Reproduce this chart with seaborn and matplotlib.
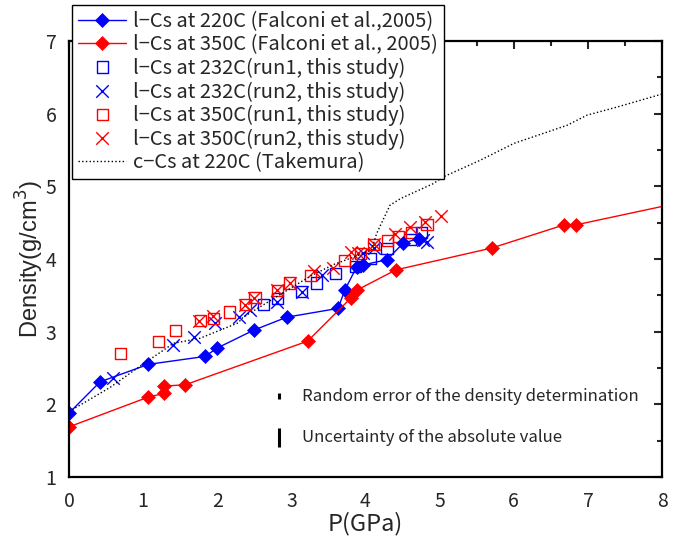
import numpy as np
import matplotlib
matplotlib.use("Agg")
import matplotlib.pyplot as plt
import seaborn as sns
from matplotlib.ticker import MultipleLocator

# Falconi et al. 2005 (l-Cs)
falc220_p = [0.0, 0.42, 1.07, 1.84, 1.99, 2.49, 2.94, 3.63, 3.72, 3.88, 3.97, 4.29, 4.51, 4.72]
falc220_d = [1.88, 2.31, 2.55, 2.66, 2.77, 3.02, 3.20, 3.32, 3.57, 3.89, 3.92, 3.99, 4.22, 4.28]
falc350_p = [0.0, 1.07, 1.28, 1.28, 1.57, 3.22, 3.80, 3.88, 4.41, 5.70, 6.68, 6.84, 8.40]
falc350_d = [1.69, 2.10, 2.15, 2.25, 2.27, 2.87, 3.46, 3.57, 3.85, 4.15, 4.47, 4.47, 4.81]

# this study
r1_232_p = [2.62, 2.81, 3.14, 3.34, 3.60, 3.87, 4.06, 4.29, 4.60, 4.76]
r1_232_d = [3.37, 3.46, 3.55, 3.67, 3.80, 3.90, 4.01, 4.15, 4.27, 4.37]
r2_232_p = [0.60, 1.40, 1.68, 1.97, 2.29, 2.44, 2.80, 3.14, 3.41, 3.97, 4.12, 4.78, 4.83]
r2_232_d = [2.36, 2.81, 2.92, 3.12, 3.20, 3.30, 3.41, 3.55, 3.78, 4.08, 4.15, 4.26, 4.24]
r1_350_p = [0.69, 1.21, 1.44, 1.78, 1.95, 2.17, 2.38, 2.51, 2.81, 2.97, 3.26, 3.72, 3.93, 4.11, 4.30, 4.44, 4.62, 4.83]
r1_350_d = [2.70, 2.87, 3.02, 3.15, 3.18, 3.27, 3.37, 3.47, 3.57, 3.67, 3.77, 3.98, 4.08, 4.20, 4.25, 4.31, 4.37, 4.48]
r2_350_p = [1.76, 1.94, 2.38, 2.50, 2.80, 2.98, 3.30, 3.56, 3.80, 3.90, 4.12, 4.40, 4.60, 4.80, 5.02]
r2_350_d = [3.15, 3.21, 3.37, 3.47, 3.57, 3.67, 3.83, 3.88, 4.09, 4.08, 4.21, 4.34, 4.44, 4.51, 4.59]

# c-Cs at 220C (Takemura)
tak_p = [0.0, 0.55, 0.98, 1.41, 1.77, 2.28, 2.35, 2.80, 3.25, 3.56, 3.90, 4.08, 4.15, 4.33, 4.47,
         4.92, 5.05, 5.55, 6.00, 6.72, 6.99, 7.39, 8.00]
tak_d = [1.90, 2.23, 2.54, 2.84, 2.91, 3.12, 3.20, 3.48, 3.76, 3.92, 4.05, 4.12, 4.35, 4.74, 4.83,
         5.04, 5.13, 5.36, 5.59, 5.84, 5.98, 6.09, 6.27]

# error symbols
err_p = [2.83, 2.83]
err_d = [2.11, 1.54]
err_half = [0.04, 0.13]
err_text = ["Random error of the density determination", "Uncertainty of the absolute value"]

sns.set_style("white")
plt.rcParams['font.family'] = ['Noto Sans CJK JP', 'DejaVu Sans']

fig = plt.figure(figsize=(6.81, 5.41), dpi=100)
ax = fig.add_axes([69/681, 1-477/541, 593/681, 436/541])

sns.lineplot(x=falc220_p, y=falc220_d, estimator=None, sort=False, color='blue', lw=1,
             marker='D', markersize=7.5, mec='blue', mew=0.5, label='l\u2212Cs at 220C (Falconi et al.,2005)', ax=ax)
sns.lineplot(x=falc350_p, y=falc350_d, estimator=None, sort=False, color='red', lw=1,
             marker='D', markersize=7.5, mec='red', mew=0.5, label='l\u2212Cs at 350C (Falconi et al., 2005)', ax=ax)
sns.scatterplot(x=r1_232_p, y=r1_232_d, marker='s', s=64, facecolor='none', edgecolor='blue',
                linewidth=1, label='l\u2212Cs at 232C(run1, this study)', ax=ax)
sns.scatterplot(x=r2_232_p, y=r2_232_d, marker='x', s=81, color='blue',
                linewidth=1, label='l\u2212Cs at 232C(run2, this study)', ax=ax)
sns.scatterplot(x=r1_350_p, y=r1_350_d, marker='s', s=64, facecolor='none', edgecolor='red',
                linewidth=1, label='l\u2212Cs at 350C(run1, this study)', ax=ax)
sns.scatterplot(x=r2_350_p, y=r2_350_d, marker='x', s=81, color='red',
                linewidth=1, label='l\u2212Cs at 350C(run2, this study)', ax=ax)
sns.lineplot(x=tak_p, y=tak_d, estimator=None, sort=False, color='black', lw=1,
             linestyle=':', label='c\u2212Cs at 220C (Takemura)', ax=ax)

ax.errorbar(err_p, err_d, yerr=err_half, fmt='none', ecolor='black', elinewidth=2.2, capsize=0)
for p, d, t in zip(err_p, err_d, err_text):
    ax.text(p + 0.31, d, t, fontsize=12.1, va='center', ha='left')

ax.set_xlim(0, 8)
ax.set_ylim(1, 7)
ax.xaxis.set_major_locator(MultipleLocator(1))
ax.xaxis.set_minor_locator(MultipleLocator(0.5))
ax.yaxis.set_major_locator(MultipleLocator(1))
ax.yaxis.set_minor_locator(MultipleLocator(0.5))
ax.tick_params(which='both', direction='in', top=True, right=True, width=1.5, labelsize=14)
ax.tick_params(which='major', length=6)
ax.tick_params(which='minor', length=3.5)
ax.tick_params(axis='x', pad=10)
ax.tick_params(axis='y', pad=9)
for s in ax.spines.values():
    s.set_linewidth(1.6)
    s.set_color('black')

ax.set_xlabel('P(GPa)', fontsize=17, labelpad=0)
ax.set_ylabel('Density(g/cm$^3$)', fontsize=17, labelpad=0, family='Liberation Sans')

leg = ax.legend(loc='upper left', bbox_to_anchor=(72/681, 1-5/541), bbox_transform=fig.transFigure,
                borderaxespad=0, fontsize=14.5, frameon=True, fancybox=False, framealpha=1,
                edgecolor='black', handlelength=2.4, handletextpad=0.35, labelspacing=0.12,
                borderpad=0.3, scatteryoffsets=[0.5])
leg.get_frame().set_linewidth(1.0)

fig.savefig('out.png', dpi=100)
